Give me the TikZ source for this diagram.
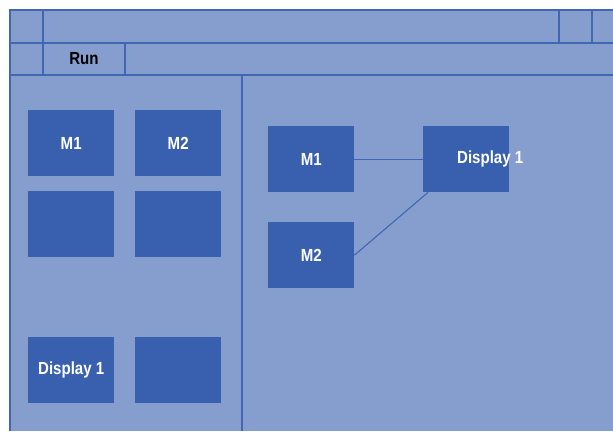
\documentclass[tikz,border=0pt]{standalone}
\usepackage{fontspec}
\setmainfont{Liberation Sans}
\newfontfamily\narrowfont[FakeStretch=0.86]{Liberation Sans}
\usetikzlibrary{calc}
\definecolor{panelbg}{RGB}{134,158,206}
\definecolor{blockblue}{RGB}{57,96,174}
\definecolor{rulecol}{RGB}{64,102,180}
\tikzset{
  rule/.style={draw=rulecol, line width=1.4pt},
  block/.style={fill=blockblue, draw=none, inner sep=0pt,
    minimum width=86pt, minimum height=66pt, anchor=north west,
    text=white, font=\narrowfont\bfseries\fontsize{17.5}{20}\selectfont},
  wire/.style={draw=rulecol, line width=1.1pt},
  tablabel/.style={font=\narrowfont\bfseries\fontsize{17.5}{20}\selectfont, text=black}
}
\begin{document}
\begin{tikzpicture}[x=1pt,y=-1pt]
\useasboundingbox (0,0) rectangle (613,431);
% window area
\fill[panelbg] (10,10) rectangle (613,431);
% outer border
\draw[rulecol, line width=2pt] (10,431) -- (10,10) -- (613,10);
% title bar and tool bar rules
\draw[rule] (10,43) -- (613,43);
\draw[rule] (10,75) -- (613,75);
\draw[rule] (43,10) -- (43,75);
\draw[rule] (125,43) -- (125,75);
\draw[rule] (559,10) -- (559,43);
\draw[rule] (592,10) -- (592,43);
% palette divider
\draw[rule] (242,75) -- (242,431);
\node[tablabel] (run) at (84,59) {Run};
% palette blocks
\node[block] (pm1) at (28,110) {M1};
\node[block] (pm2) at (135,110) {M2};
\node[block] (pe1) at (28,191) {};
\node[block] (pe2) at (135,191) {};
\node[block] (pd1) at (28,337) {Display 1};
\node[block] (pe3) at (135,337) {};
% canvas blocks
\node[block] (cm1) at (268,126) {M1};
\node[block] (cm2) at (268,222) {M2};
\node[block] (cd1) at (423,126) {\makebox[0pt][c]{\hspace*{48pt}Display 1}};
% connections
\draw[wire] (cm1.east) -- (cd1.west);
\draw[wire] (cm2.east) -- ($(cd1.south west)+(5,0)$);
\end{tikzpicture}
\end{document}
